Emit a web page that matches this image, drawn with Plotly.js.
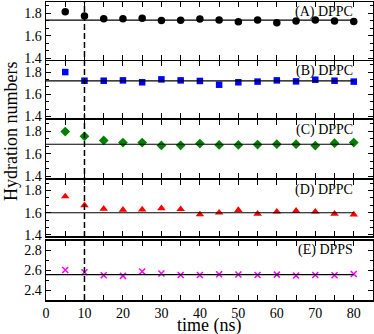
<!DOCTYPE html>
<html>
<head>
<meta charset="utf-8">
<script src="https://cdn.plot.ly/plotly-3.0.1.min.js"></script>
<style>
  html, body { margin: 0; padding: 0; background: #fff; }
  #graph { width: 374px; height: 334px; }
</style>
</head>
<body>
<div id="graph"></div>
<script>
// tiempos de muestreo (ns)
const timeNs = [5, 10, 15, 20, 25, 30, 35, 40, 45, 50, 55, 60, 65, 70, 75, 80];

// numeros de hidratacion por panel
const hydA = [1.814, 1.776, 1.752, 1.752, 1.755, 1.737, 1.738, 1.749, 1.740, 1.725, 1.740, 1.716, 1.731, 1.740, 1.731, 1.728];
const hydB = [1.800, 1.722, 1.722, 1.725, 1.708, 1.734, 1.725, 1.720, 1.686, 1.708, 1.714, 1.725, 1.716, 1.731, 1.722, 1.714];
const hydC = [1.797, 1.755, 1.719, 1.700, 1.700, 1.674, 1.675, 1.691, 1.679, 1.679, 1.682, 1.685, 1.685, 1.673, 1.694, 1.700];
const hydD = [1.747, 1.667, 1.635, 1.626, 1.629, 1.640, 1.632, 1.585, 1.600, 1.624, 1.590, 1.610, 1.617, 1.610, 1.590, 1.583];
const hydE = [2.603, 2.580, 2.550, 2.543, 2.587, 2.567, 2.552, 2.553, 2.560, 2.558, 2.553, 2.556, 2.547, 2.552, 2.550, 2.562];

// valores medios (lineas horizontales)
const meanVals = [1.740, 1.720, 1.685, 1.600, 2.555];
const meanSpan = [0, 80];
const equilTime = 10;

const panelLabels = ["(A) DPPC", "(B) DPPC", "(C) DPPC", "(D) DPPC", "(E) DPPS"];
const xTicks = [0, 10, 20, 30, 40, 50, 60, 70, 80];

const series = [hydA, hydB, hydC, hydD, hydE];
const markerStyles = [
    { symbol: "circle", color: "#000000", size: 7.5 },
    { symbol: "square", color: "#0000ff", size: 6.5 },
    { symbol: "diamond", color: "#008000", size: 7.5 },
    { symbol: "triangle-up", color: "#ff0000", size: 7.5 },
    { symbol: "x-thin", color: "#ff00ff", size: 6, line: { color: "#ff00ff", width: 1.5 } }
];

// posicion de cada panel en pixeles (arriba, abajo)
const H = 334, T = 2, B = 34;
const panelPx = [[2, 59.5], [61, 117.5], [120, 177.5], [179.5, 236], [240.5, 300]];
function dom(p) {
    const h = H - T - B;
    return [(300 - p[1]) / h, (300 - p[0]) / h];
}
function py(px) { return (300 - px) / (H - T - B); }

const font = "Liberation Serif, Times New Roman, serif";
const data = [];
const layout = {
    width: 374, height: 334,
    margin: { l: 46, r: 1, t: T, b: B },
    paper_bgcolor: "#fff", plot_bgcolor: "#fff",
    showlegend: false,
    font: { family: font, size: 14, color: "#000" },
    shapes: [], annotations: []
};

series.forEach((ys, i) => {
    const n = i === 0 ? "" : String(i + 1);
    data.push({
        x: timeNs, y: ys, xaxis: "x" + n, yaxis: "y" + n,
        type: "scatter", mode: "markers",
        marker: markerStyles[i], cliponaxis: false
    });
    data.push({
        x: meanSpan, y: [meanVals[i], meanVals[i]], xaxis: "x" + n, yaxis: "y" + n,
        type: "scatter", mode: "lines",
        line: { color: "#000", width: 1.2 }
    });
    const isE = i === 4;
    layout["xaxis" + n] = {
        domain: [0, 1], anchor: "y" + n, range: [0, 85],
        showline: true, linecolor: "#000", linewidth: 1.5, mirror: "ticks",
        ticks: "inside", ticklen: 5, tickwidth: 1, tickcolor: "#000",
        tickvals: xTicks, showticklabels: isE, ticklabelstandoff: 0,
        minor: { dtick: 5, tick0: 0, ticks: "inside", ticklen: 5, tickcolor: "#000" },
        showgrid: false, zeroline: false,
        tickfont: { family: font, size: 14 }
    };
    layout["yaxis" + n] = {
        domain: dom(panelPx[i]), anchor: "x" + n,
        range: isE ? [2.3, 2.9] : [1.39, 1.9],
        tickvals: isE ? [2.4, 2.6, 2.8] : [1.4, 1.6, 1.8],
        ticktext: isE ? ["2.4", "2.6", "2.8"] : ["1.4", "1.6", "1.8"],
        showline: true, linecolor: "#000", linewidth: 1.5, mirror: "ticks",
        ticks: "inside", ticklen: 5, tickwidth: 1, tickcolor: "#000",
        minor: { dtick: isE ? 0.1 : 0.2 / 3, tick0: isE ? 2.4 : 1.4, ticks: "inside", ticklen: 3, tickcolor: "#000" },
        showgrid: false, zeroline: false,
        tickfont: { family: font, size: 14 }
    };
    layout.annotations.push({
        text: panelLabels[i], xref: "paper", yref: "paper",
        x: (355 - 46) / 327, xanchor: "right",
        y: py(panelPx[i][0] + 10), yanchor: "middle",
        showarrow: false, font: { family: font, size: 14 }
    });
});

// linea vertical discontinua de equilibrio
layout.shapes.push({
    type: "line", xref: "x", yref: "paper",
    x0: equilTime, x1: equilTime, y0: 0, y1: 1,
    line: { color: "#000", width: 1.5, dash: "6px,3px" }
});

// titulos de ejes
layout.annotations.push({
    text: "time (ns)", xref: "paper", yref: "paper",
    x: 0.5, y: py(325), yanchor: "middle",
    showarrow: false, font: { family: font, size: 18 }
});
layout.annotations.push({
    text: "Hydration numbers", xref: "paper", yref: "paper",
    x: -(46 - 10.5) / 327, xanchor: "center",
    y: py(131.5), yanchor: "middle",
    textangle: -90, showarrow: false, font: { family: font, size: 18 }
});

Plotly.newPlot("graph", data, layout, { staticPlot: true });
</script>
</body>
</html>
